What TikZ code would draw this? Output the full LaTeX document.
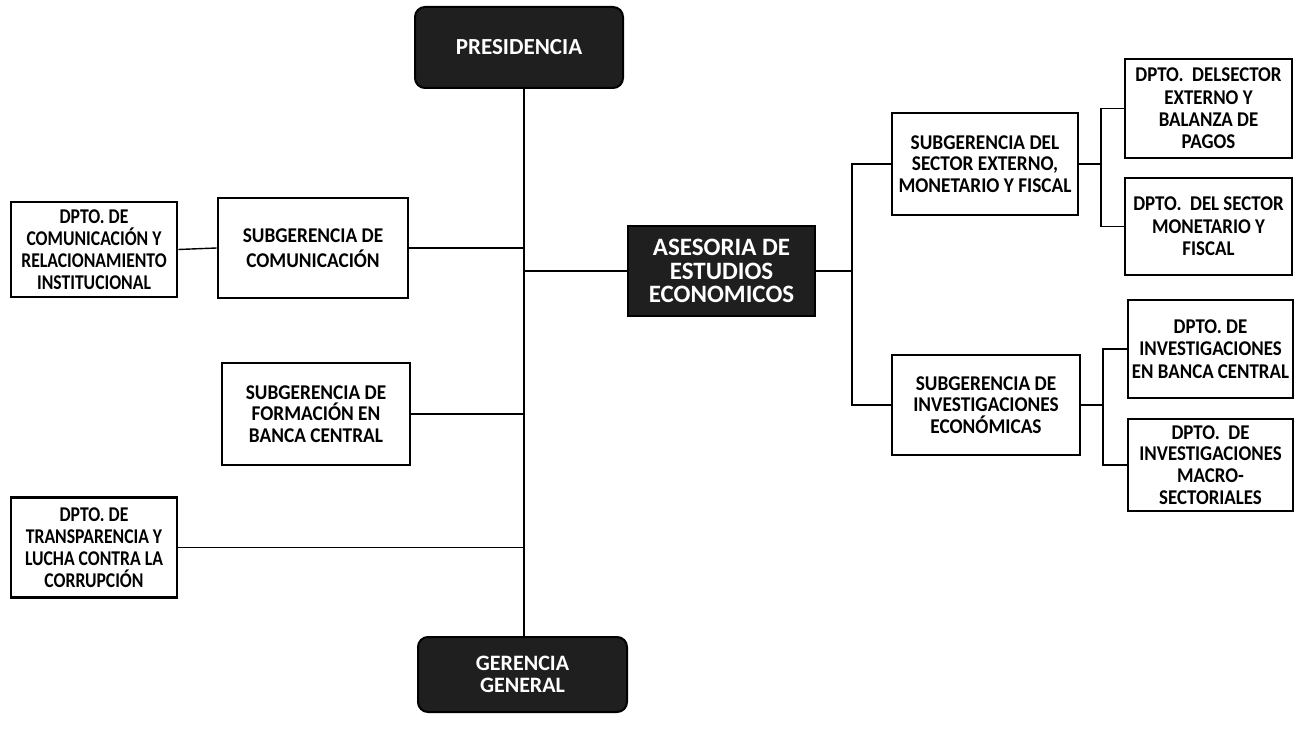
\documentclass[tikz,border=0pt]{standalone}
\usepackage{fontspec}
\setmainfont{Carlito}
% narrowed bold faces for the box labels
\newfontfamily\unitfont[FakeStretch=0.92]{Carlito}
\newfontfamily\leftdeptfont[FakeStretch=0.84]{Carlito}
\newfontfamily\rightdeptfont[FakeStretch=0.9]{Carlito}
\begin{document}
\begin{tikzpicture}[x=0.5pt,y=-0.5pt,
  unitbox/.style={draw=black, line width=1.3pt, fill=white, align=center,
    inner sep=0pt, font=\unitfont\bfseries\fontsize{10.5}{10.9}\selectfont},
  ldeptbox/.style={unitbox, font=\leftdeptfont\bfseries\fontsize{10.5}{10.9}\selectfont},
  rdeptbox/.style={unitbox, font=\rightdeptfont\bfseries\fontsize{10.5}{11.2}\selectfont},
  headbox/.style={draw=black, line width=1pt, fill=black!88, text=white,
    align=center, inner sep=0pt},
  link/.style={line width=0.7pt}]
\useasboundingbox (0,0) rectangle (1300,732);

% top and bottom heads
\node[headbox, rounded corners=5pt, minimum width=104pt, minimum height=40.5pt,
  font=\bfseries\fontsize{11.5}{12}\selectfont] (pres) at (519,47.5) {PRESIDENCIA};
\node[headbox, rounded corners=5pt, minimum width=104.5pt, minimum height=37.5pt,
  font=\bfseries\fontsize{11}{11.3}\selectfont] (gg) at (522.5,674.5) {GERENCIA\\GENERAL};
\node[headbox, minimum width=93.5pt, minimum height=45pt,
  font=\bfseries\fontsize{12.5}{11.8}\selectfont] (ase) at (721.5,271) {ASESORIA DE\\ESTUDIOS\\ECONOMICOS};

% left branch
\node[ldeptbox, minimum width=83pt, minimum height=47.5pt] (dcr) at (94,249.5)
  {DPTO. DE\\COMUNICACIÓN Y\\RELACIONAMIENTO\\INSTITUCIONAL};
\node[unitbox, minimum width=95pt, minimum height=50pt,
  font=\unitfont\bfseries\fontsize{10.5}{12.5}\selectfont] (scom) at (313,248)
  {SUBGERENCIA DE\\COMUNICACIÓN};
\node[unitbox, minimum width=94pt, minimum height=51pt] (sfb) at (316,414)
  {SUBGERENCIA DE\\FORMACIÓN EN\\BANCA CENTRAL};
\node[ldeptbox, minimum width=83pt, minimum height=50pt] (dtl) at (94,547.5)
  {DPTO. DE\\TRANSPARENCIA Y\\LUCHA CONTRA LA\\CORRUPCIÓN};

% right branch
\node[unitbox, minimum width=93pt, minimum height=51pt] (sse) at (985,164)
  {SUBGERENCIA DEL\\SECTOR EXTERNO,\\MONETARIO Y FISCAL};
\node[rdeptbox, minimum width=83.5pt, minimum height=49.5pt] (dse) at (1208.5,108.5)
  {DPTO.\ \ DELSECTOR\\EXTERNO Y\\BALANZA DE\\PAGOS};
\node[rdeptbox, minimum width=83.5pt, minimum height=48.5pt] (dsm) at (1208.5,226.5)
  {DPTO.\ \ DEL SECTOR\\MONETARIO Y\\FISCAL};
\node[unitbox, minimum width=94pt, minimum height=50pt] (sie) at (986,405)
  {SUBGERENCIA DE\\INVESTIGACIONES\\ECONÓMICAS};
\node[rdeptbox, minimum width=82.5pt, minimum height=49pt] (dib) at (1210.5,349)
  {DPTO. DE\\INVESTIGACIONES\\EN BANCA CENTRAL};
\node[rdeptbox, minimum width=82.5pt, minimum height=46pt,
  font=\rightdeptfont\bfseries\fontsize{10.5}{10.9}\selectfont] (dim) at (1210.5,465)
  {DPTO.\ \ DE\\INVESTIGACIONES\\MACRO-\\SECTORIALES};

% trunk and bus positions
\coordinate (t) at (524,0);
\coordinate (b1) at (852,271);
\coordinate (b2) at (1101,164);
\coordinate (b3) at (1103,405);

% connectors
\draw[link] (pres.south -| t) -- (gg.north -| t);
\draw[link] (dcr.east) -- (scom.west);
\draw[link] (scom.east) -- (scom.east -| t);
\draw[link] (sfb.east) -- (sfb.east -| t);
\draw[link] (dtl.east) -- (dtl.east -| t);
\draw[link] (ase.west -| t) -- (ase.west);
\draw[link] (ase.east) -- (b1);
\draw[link] (sse.west) -| (b1) |- (sie.west);
\draw[link] (sse.east) -- (b2);
\draw[link] (dse.west) -| (b2) |- (dsm.west);
\draw[link] (sie.east) -- (b3);
\draw[link] (dib.west) -| (b3) |- (dim.west);
\end{tikzpicture}
\end{document}
